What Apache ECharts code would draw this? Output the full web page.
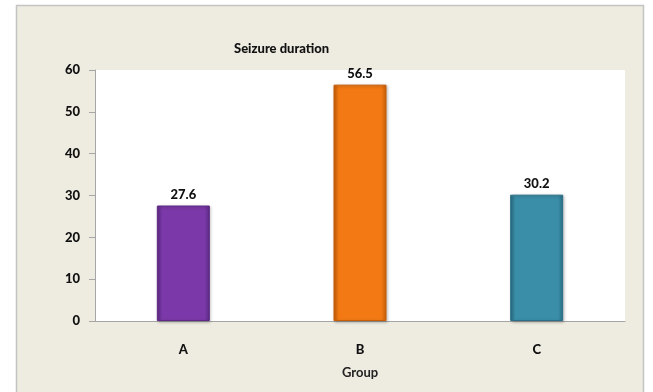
<!DOCTYPE html>
<html>
<head>
<meta charset="utf-8">
<script src="https://cdn.jsdelivr.net/npm/echarts@6/dist/echarts.min.js"></script>
<style>
  html, body { margin: 0; padding: 0; background: #ffffff; }
  #chart { width: 653px; height: 392px; }
</style>
</head>
<body>
<div id="chart"></div>
<script>
// Seizure duration by group
const groups = ['A', 'B', 'C'];
const durations = [27.6, 56.5, 30.2];
const yTicks = [0, 10, 20, 30, 40, 50, 60];

// Bevelled bar colours: edge, face, highlight
const barPalette = [
  { edge: '#5e2a86', face: '#7a38a8', top: '#9a5cc6' },
  { edge: '#c85e08', face: '#f27914', top: '#f9a050' },
  { edge: '#2a6f85', face: '#3a8ea8', top: '#6cb6cf' }
];

function bevel(p) {
  return new echarts.graphic.LinearGradient(0, 0, 1, 0, [
    { offset: 0, color: p.edge },
    { offset: 0.1, color: p.face },
    { offset: 0.9, color: p.face },
    { offset: 1, color: p.edge }
  ]);
}

const font = 'Lato, "Open Sans", sans-serif';
const chart = echarts.init(document.getElementById('chart'), null, { renderer: 'canvas' });

chart.setOption({
  animation: false,
  backgroundColor: '#ffffff',
  graphic: [{
    type: 'rect',
    z: -10,
    silent: true,
    shape: { x: 16.5, y: 5.5, width: 627, height: 400 },
    style: { fill: '#eeece1', stroke: '#c4c4c4', lineWidth: 1.5 }
  }],
  title: {
    text: 'Seizure duration',
    left: 229,
    top: 37,
    textStyle: { fontFamily: font, fontSize: 13, fontWeight: 900, color: '#111' }
  },
  grid: {
    left: 95, right: 28, top: 70, bottom: 71,
    show: true, backgroundColor: '#ffffff', borderWidth: 0
  },
  xAxis: {
    type: 'category',
    data: groups,
    name: 'Group',
    nameLocation: 'middle',
    nameGap: 45,
    nameTextStyle: { fontFamily: font, fontSize: 13, fontWeight: 'bold', color: '#222' },
    axisLine: { lineStyle: { color: '#a6a6a6', width: 1 } },
    axisTick: { show: false },
    axisLabel: { margin: 22, fontFamily: font, fontSize: 13, fontWeight: 900, color: '#111' }
  },
  yAxis: {
    type: 'value',
    min: yTicks[0],
    max: yTicks[yTicks.length - 1],
    interval: yTicks[1] - yTicks[0],
    axisLine: { show: true, lineStyle: { color: '#a6a6a6', width: 1 } },
    axisTick: { show: true, length: 6, lineStyle: { color: '#a6a6a6' } },
    splitLine: { show: false },
    axisLabel: { margin: 15, fontFamily: font, fontSize: 13, fontWeight: 900, color: '#111' }
  },
  series: [{
    type: 'bar',
    barWidth: '30%',
    data: durations.map((v, i) => ({
      value: v,
      itemStyle: {
        color: bevel(barPalette[i]),
        borderColor: barPalette[i].edge,
        borderWidth: 1,
        shadowColor: 'rgba(0,0,0,0.25)',
        shadowBlur: 3,
        shadowOffsetX: 1,
        shadowOffsetY: 1
      }
    })),
    label: {
      show: true,
      position: 'top',
      distance: 4,
      fontFamily: font,
      fontSize: 13,
      fontWeight: 900,
      color: '#111',
      formatter: p => p.value.toFixed(1)
    }
  }]
});
</script>
</body>
</html>
